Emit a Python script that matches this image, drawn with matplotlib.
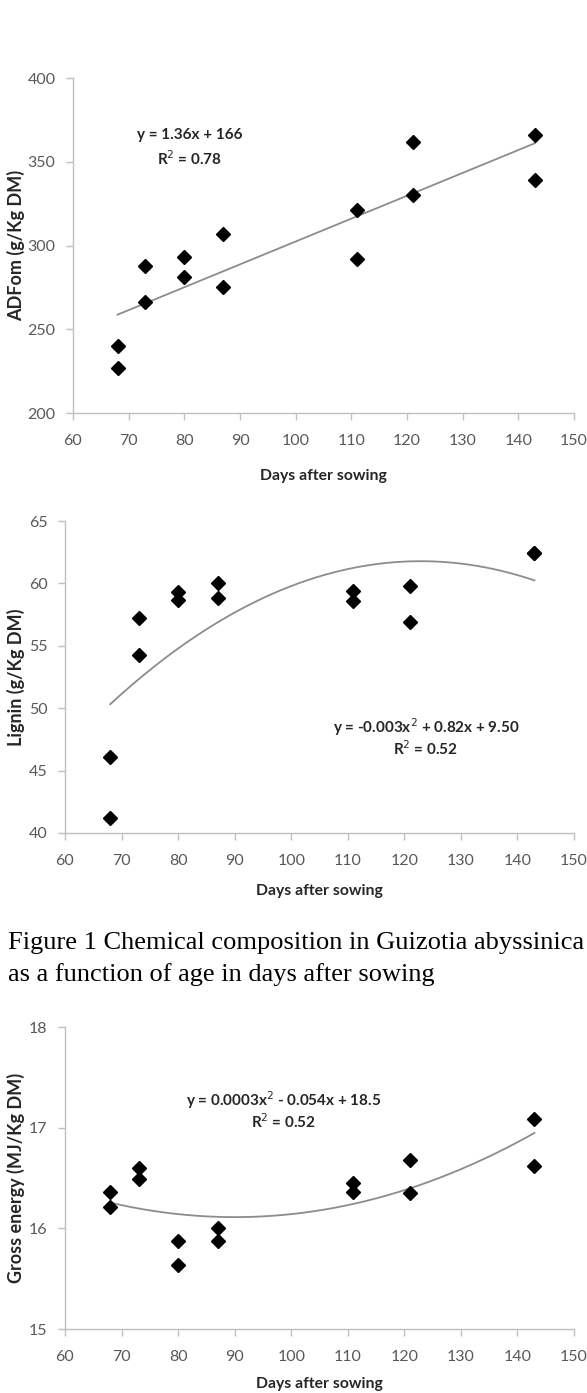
import numpy as np
import matplotlib
matplotlib.use("Agg")
import matplotlib.pyplot as plt

# data
days = [68, 68, 73, 73, 80, 80, 87, 87, 111, 111, 121, 121, 143, 143]
adfom = [240, 227, 288, 266, 293, 281, 307, 275, 321, 292, 362, 330, 366, 339]

# two lignin samples at 143 d sit on top of each other
lignin = [46.1, 41.2, 57.2, 54.3, 59.3, 58.7, 60.0, 58.8, 59.4, 58.6, 59.8, 56.9, 62.4, 62.4]

energy = [16.36, 16.21, 16.6, 16.49, 15.87, 15.64, 16.0, 15.87, 16.45, 16.36, 16.68, 16.35, 17.09, 16.62]

xticks = [60, 70, 80, 90, 100, 110, 120, 130, 140, 150]

W, H = 587, 1393
fig = plt.figure(figsize=(W / 100, H / 100), dpi=100)
plt.rcParams['font.family'] = ['Lato', 'DejaVu Sans']

axcol = '#bfbfbf'
tickcol = '#595959'
txtcol = '#262626'


def make_ax(left, right, top, bottom):
    ax = fig.add_axes([left / W, 1 - bottom / H, (right - left) / W, (bottom - top) / H])
    for s in ['top', 'right']:
        ax.spines[s].set_visible(False)
    for s in ['left', 'bottom']:
        ax.spines[s].set_color(axcol)
        ax.spines[s].set_linewidth(1.0)
    ax.tick_params(colors=axcol, labelcolor=tickcol, labelsize=11.5, length=5, width=1.0)
    ax.tick_params(axis='x', pad=10)
    ax.tick_params(axis='y', pad=7.5)
    ax.set_xlim(60, 150)
    ax.set_xticks(xticks)
    return ax


def panel(ax, x, y, deg, ylim, yticks, ylabel, eq, r2, pos, box):
    left, right, top, bottom = box
    ax.set_ylim(*ylim)
    ax.set_yticks(yticks)
    coef = np.polyfit(x, y, deg)
    xs = np.linspace(min(x), max(x), 200)
    ax.plot(xs, np.polyval(coef, xs), color='#8c8c8c', lw=1.3, zorder=2)
    ax.plot(x, y, linestyle='none', marker='D', ms=7.5, color='black', zorder=3)
    ax.set_xlabel('Days after sowing', fontsize=11.3, fontweight='bold', color=txtcol)
    ax.set_ylabel(ylabel, fontsize=13, fontweight='bold', color=txtcol)
    w = right - left
    h = bottom - top
    ax.xaxis.set_label_coords(0.5, -(pos[3] - 6 - bottom) / h)
    ax.yaxis.set_label_coords(-(left - 25) / w, 0.5)
    ax.text((pos[0] - left) / w, (bottom - pos[1]) / h, eq, transform=ax.transAxes,
            ha='center', va='center', fontsize=11, fontweight='bold', color=txtcol)
    ax.text((pos[0] - left) / w, (bottom - pos[2]) / h, r2, transform=ax.transAxes,
            ha='center', va='center', fontsize=11, fontweight='bold', color=txtcol)


# panel 1
box1 = (73, 574, 78, 413)
ax1 = make_ax(*box1)
panel(ax1, days, adfom, 1, (200, 400), [200, 250, 300, 350, 400], 'ADFom (g/Kg DM)',
      'y = 1.36x + 166', 'R$^{2}$ = 0.78', (190, 135, 159, 475), box1)

# panel 2
box2 = (65, 574, 521, 833)
ax2 = make_ax(*box2)
panel(ax2, days, lignin, 2, (40, 65), [40, 45, 50, 55, 60, 65], 'Lignin (g/Kg DM)',
      'y = -0.003x$^{2}$ + 0.82x + 9.50', 'R$^{2}$ = 0.52', (426, 727, 749, 890), box2)

# panel 3
box3 = (65, 574, 1027, 1329)
ax3 = make_ax(*box3)
panel(ax3, days, energy, 2, (15, 18), [15, 16, 17, 18], 'Gross energy (MJ/Kg DM)',
      'y = 0.0003x$^{2}$ - 0.054x + 18.5', 'R$^{2}$ = 0.52', (284, 1100, 1122, 1383), box3)

# caption
fig.text(8 / W, 1 - 943 / H, 'Figure 1 Chemical composition in Guizotia abyssinica',
         family='Liberation Serif', fontsize=19, va='center', ha='left')
fig.text(8 / W, 1 - 975 / H, 'as a function of age in days after sowing',
         family='Liberation Serif', fontsize=19, va='center', ha='left')

fig.savefig('out.png', dpi=100)
